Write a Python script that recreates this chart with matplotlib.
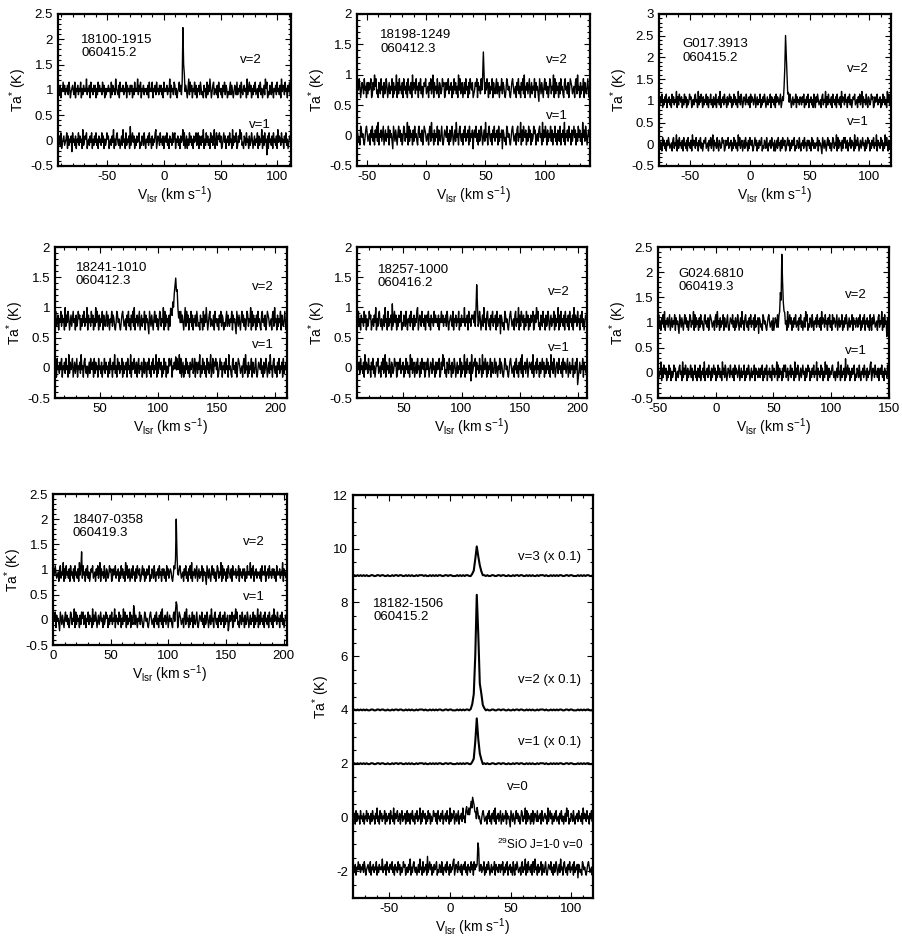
import numpy as np
import matplotlib
matplotlib.use("Agg")
import matplotlib.pyplot as plt
from matplotlib.ticker import MultipleLocator, FuncFormatter

plt.rcParams['font.family'] = ['Liberation Sans', 'DejaVu Sans']
plt.rcParams['mathtext.fontset'] = 'custom'
plt.rcParams['mathtext.rm'] = 'Liberation Sans'
plt.rcParams['mathtext.it'] = 'Liberation Sans:italic'

# ---------------- DATA ----------------
# noise residual strings (one digit per channel): Ta = baseline + (d - 4.5) * noise_step
# line features: additive amplitudes (K) at the given velocities (km/s)

# Panel 1
p1_source, p1_date = "18100-1915", "060415.2"
p1_vrange, p1_yrange = [-93, 112], [-0.5, 2.5]
p1_v2_noise = ("45362 54746 35463 75245 64372 54635 47253 64548 35462 74536 46253 74645 37462 53546 45273 64538 "
               "54362 74546 35472 64536 46253 74548 36472 54635 45362 74547 25463 74536 46352 74546 35482 64537 "
               "63524 57463 25374 64258 37462 54736 25463 75342 64527 36485 24673 54362 74535 26473 65243 57364 "
               "24653 73546 27435 64528 35746 25364 73452 64735 24638 57243 65374 25463 74536 28465 37452 64735")
p1_v2_base, p1_v2_line_vel, p1_v2_line_amp = 1.0, [16.4, 17.0, 17.6, 18.3], [0.3, 1.2, 0.6, 0.15]
p1_v1_noise = ("54637 24563 45726 35461 74536 25473 64528 34657 24536 47253 64735 26453 74625 34756 24536 48253 "
               "67435 24638 45273 54629 35746 25364 57243 65374 25463 74526 35478 24653 74536 25647 35264 53746 "
               "72546 35264 58372 46253 74635 26457 34726 53648 25374 63527 46358 24736 57462 35746 25463 74528 "
               "36457 23648 57342 65374 52634 75246 35472 63548 26374 50627 45362 74536 28465 37452 64735 24657")
p1_v1_base, p1_v1_line_vel, p1_v1_line_amp = 0.0, [], []

# Panel 2
p2_source, p2_date = "18198-1249", "060412.3"
p2_vrange, p2_yrange = [-58, 138], [-0.5, 2.0]
p2_v2_noise = ("36475 24653 74526 36457 23648 57342 65374 52634 75246 35472 63548 26374 53627 45362 74536 28465 "
               "37452 64735 24657 34526 47358 26453 74265 34756 23645 73546 25374 63528 47356 24637 45263 75462 "
               "34657 26453 74528 36475 26354 72643 57364 25473 65324 76453 24675 34526 47352 64738 25463 57246 "
               "35472 64531 75364 25746 35247 63548 27364 52637 45326 74536 24765 34526 73845 26354 72643 57324")
p2_v2_base, p2_v2_line_vel, p2_v2_line_amp = 0.78, [47.4, 48.0, 48.6], [0.15, 0.55, 0.2]
p2_v1_noise = ("65342 76453 24675 34526 47352 64738 25463 57246 35472 64531 75364 25746 35247 63548 27364 52637 "
               "45326 74536 24765 34526 73845 26354 72643 57324 65473 52634 75246 38452 67435 26473 54627 35461 "
               "56473 52634 75246 38452 67435 26473 54627 35461 65342 76453 24675 34526 73548 26375 46253 74625 "
               "34756 24536 74528 36475 26354 73625 47352 64372 54638 25463 74526 35746 25374 63528 46375 24653")
p2_v1_base, p2_v1_line_vel, p2_v1_line_amp = 0.0, [], []

# Panel 3
p3_source, p3_date = "G017.3913", "060415.2"
p3_vrange, p3_yrange = [-76, 118], [-0.5, 3.0]
p3_v2_noise = ("53647 25364 72546 35274 63548 26375 46253 74625 34756 24536 74528 36475 26354 73625 47352 64372 "
               "54638 25463 74526 35746 25374 63528 46375 24653 74536 27465 35724 63547 25364 75246 35472 64536 "
               "27465 35724 63547 25364 75246 35472 64536 53647 25364 72546 35274 26475 34526 73548 26374 53627 "
               "45362 74536 28465 37452 64735 24657 34526 47358 26453 74265 34756 23645 73546 25374 63528 47356")
p3_v2_base = 1.0
p3_v2_line_vel = [28.2, 28.8, 29.4, 30.0, 30.6, 31.2, 31.8, 32.4]
p3_v2_line_amp = [0.1, 0.3, 0.8, 1.35, 1.2, 0.6, 0.25, 0.1]
p3_v1_noise = ("46352 74635 26475 34526 73548 26374 53627 45362 74536 28465 37452 64735 24657 34526 47358 26453 "
               "74265 34756 23645 73546 25374 63528 47356 24637 45263 75462 35746 25364 57243 65374 25463 74526 "
               "24637 45263 75462 35746 25364 57243 65374 25463 74526 46352 74635 35472 64531 75364 25746 35247 "
               "63548 27364 52637 57346 25473 64528 36475 24635 74526 34756 25364 73548 26453 74625 38475 26354")
p3_v1_base, p3_v1_line_vel, p3_v1_line_amp = 0.0, [], []

# Panel 4
p4_source, p4_date = "18241-1010", "060412.3"
p4_vrange, p4_yrange = [12, 210], [-0.5, 2.0]
p4_v2_noise = ("57346 25473 64528 36475 24635 74526 34756 25364 73548 26453 74625 38475 26354 72643 57364 25473 "
               "65324 76453 24675 34526 47352 64738 25463 57246 35472 64531 75364 25746 35247 63548 27364 52637 "
               "63524 57463 25374 64258 37462 54736 25463 75342 64527 36485 24673 54362 74535 26473 65243 57364 "
               "35472 64531 75364 25746 35247 63548 27364 52637 45326 74536 24765 34526 73845 26354 72643 57324")
p4_v2_base = 0.78
p4_v2_line_vel = [110.6, 111.2, 111.8, 112.5, 113.1, 113.7, 114.3, 114.9, 115.5, 116.2, 116.8, 117.4, 118.0, 118.6]
p4_v2_line_amp = [0.05, 0.1, 0.18, 0.28, 0.38, 0.48, 0.55, 0.55, 0.52, 0.42, 0.3, 0.2, 0.12, 0.06]
p4_v1_noise = ("36274 53647 25463 74528 36457 24635 72546 38452 67435 24637 54627 36452 74536 25473 64526 37452 "
               "64835 27463 54726 35462 74538 26457 34625 73546 24736 52647 35264 73548 26375 46253 74625 34756 "
               "72546 35264 58372 46253 74635 26457 34726 53648 25374 63527 46358 24736 57462 35746 25463 74528 "
               "45326 74536 24765 34526 73845 26354 72643 57324 65473 52634 75246 38452 67435 26473 54627 35461")
p4_v1_base, p4_v1_line_vel, p4_v1_line_amp = 0.0, [114.3, 114.9, 115.5, 116.2], [0.08, 0.15, 0.12, 0.06]

# Panel 5
p5_source, p5_date = "18257-1000", "060416.2"
p5_vrange, p5_yrange = [10, 208], [-0.5, 2.0]
p5_v2_noise = ("64735 26453 74625 34756 24536 48253 67435 24638 45273 54629 35746 25364 57243 65374 25463 74526 "
               "35478 24653 74536 25647 35264 53746 45362 54746 35463 75245 64372 54635 47253 64548 35462 74536 "
               "56473 52634 75246 38452 67435 26473 54627 35461 65342 76453 24675 34526 73548 26375 46253 74625 "
               "36457 23648 57342 65374 52634 75246 35472 63548 26374 53627 45362 74536 28465 37452 64735 24657")
p5_v2_base, p5_v2_line_vel, p5_v2_line_amp = 0.78, [112.4, 113.0, 113.6], [0.15, 0.75, 0.2]
p5_v1_noise = ("25463 74536 28465 37452 64735 24657 34526 47358 26453 74265 34756 23645 73546 25374 63528 47356 "
               "24637 45263 75462 36475 24653 74526 36457 23648 57342 65374 52634 75246 35472 63548 26374 53618 "
               "34657 26453 74528 36475 26354 72643 57364 25473 65324 76453 24675 34526 47352 64738 25463 57246 "
               "54638 25463 74526 35746 25374 63528 46375 24653 74536 27465 35724 63547 25364 70246 35472 64536")
p5_v1_base, p5_v1_line_vel, p5_v1_line_amp = 0.0, [], []

# Panel 6
p6_source, p6_date = "G024.6810", "060419.3"
p6_vrange, p6_yrange = [-50, 150], [-0.5, 2.5]
p6_v2_noise = ("47352 64738 25463 57246 35472 64531 75364 25746 35247 63548 27364 52637 45326 74536 24765 34526 "
               "73845 26354 72643 57324 65473 52634 75246 38452 67435 26473 54627 35461 65342 76453 24675 34526 "
               "24653 73546 27435 64528 35746 25364 73452 64735 24638 57243 65374 25463 74536 28465 37452 64735 "
               "27465 35724 63547 25364 75246 35472 64536 53647 25364 72546 35274 26475 34526 73548 26374 50627")
p6_v2_base = 1.0
p6_v2_line_vel = [54.5, 55.1, 55.7, 56.4, 57.0, 57.6, 58.2, 58.9, 59.5]
p6_v2_line_amp = [0.1, 0.25, 0.5, 0.6, 1.2, 0.85, 0.5, 0.2, 0.1]
p6_v1_noise = ("73548 26375 46253 74625 34756 24536 74528 36475 26354 73625 47352 64372 54638 25463 74526 35746 "
               "25374 63528 46375 24653 74536 27465 35724 63547 25364 75246 35472 64536 53647 25364 72546 35274 "
               "63548 27364 52637 57346 25473 64528 36475 24635 74526 34756 25364 73548 26453 74625 38475 26354 "
               "67435 24638 45273 54629 35746 25364 57243 65374 25463 74526 35478 24653 74536 25647 35264 53746")
p6_v1_base, p6_v1_line_vel, p6_v1_line_amp = 0.0, [], []

# Panel 7
p7_source, p7_date = "18407-0358", "060419.3"
p7_vrange, p7_yrange = [0, 203], [-0.5, 2.5]
p7_v2_noise = ("26475 34526 73548 26374 53627 45362 74536 28465 37452 64735 24657 34526 47358 26453 74265 34756 "
               "23645 73546 25374 63528 47356 24637 45263 75462 35746 25364 57243 65374 25463 74526 46352 74635 "
               "65324 76453 24675 34526 47352 64738 25463 57246 35472 64531 75364 25746 35247 63548 27364 52637 "
               "54362 74546 35472 64536 46253 74548 36472 54635 45362 74547 25463 74536 46352 74546 35482 64537")
p7_v2_base = 0.92
p7_v2_line_vel = [25.0, 106.4, 107.0, 107.6, 108.3]
p7_v2_line_amp = [0.4, 0.3, 1.05, 0.5, 0.15]
p7_v1_noise = ("35472 64531 75364 25746 35247 63548 27364 52637 57346 25473 64528 36475 24635 74526 34756 25364 "
               "73548 26453 74625 38475 26354 72643 57364 25473 65324 76453 24675 34526 47352 64738 25463 57246 "
               "45326 74536 24765 34526 73845 26354 72643 57324 65473 52634 75246 38452 67435 26473 54627 35461 "
               "36457 23648 57342 65374 52634 75246 35472 63548 26374 53627 45362 74536 28465 37452 64735 24657")
p7_v1_base, p7_v1_line_vel, p7_v1_line_amp = 0.0, [70.0, 106.4, 107.0, 107.6], [0.25, 0.15, 0.45, 0.2]

# Panel 8 (strong source, vibrational states scaled by 0.1)
p8_source, p8_date = "18182-1506", "060415.2"
p8_vrange, p8_yrange = [-80, 118], [-3.0, 12.0]
p8_smooth_noise = ("45454 54545 44554 45545 54454 45455 45544 54545 44545 55454 45454 54554 45545 54445 45454 55445 "
                   "45454 54545 44554 45545 54454 45455 45544 54545 44545 55454 45454 54554 45545 54445 45454 55445")
p8_v3_base = 9.0
p8_v3_line_vel = [18.0, 19.3, 20.5, 21.8, 23.0, 24.3, 25.5, 26.8]
p8_v3_line_amp = [0.05, 0.2, 0.6, 1.1, 0.7, 0.4, 0.15, 0.03]
p8_v2_base = 4.0
p8_v2_line_vel = [16.8, 18.0, 19.3, 20.5, 21.8, 23.0, 24.3, 25.5, 26.8, 28.0]
p8_v2_line_amp = [0.05, 0.2, 0.6, 2.0, 4.3, 2.8, 1.0, 0.6, 0.2, 0.05]
p8_v1_base = 2.0
p8_v1_line_vel = [18.0, 19.3, 20.5, 21.8, 23.0, 24.3, 25.5]
p8_v1_line_amp = [0.05, 0.2, 0.8, 1.7, 0.9, 0.4, 0.15]
p8_v0_noise = ("54627 36452 74536 25473 64526 37452 64835 27463 54726 35462 74538 26457 34625 73546 24736 52647 "
               "35264 73548 26375 46253 74625 34756 36274 53647 25463 74528 36457 24635 72546 38452 67435 24637 "
               "65342 76453 24675 34526 47352 64738 25463 57246 35472 64531 75364 25746 35247 63548 27364 52637 "
               "24653 73546 27435 64528 35746 25364 73452 64735 24638 57243 65374 25463 74536 28465 37452 64735")
p8_v0_base = 0.0
p8_v0_line_vel = [12.5, 13.1, 13.7, 14.4, 15.0, 15.6, 16.2, 16.8, 17.5, 18.1, 18.7, 19.3, 19.9, 20.6, 21.2, 21.8, 22.4, 23.0]
p8_v0_line_amp = [0.05, 0.1, 0.15, 0.2, 0.25, 0.3, 0.35, 0.4, 0.45, 0.5, 0.5, 0.45, 0.4, 0.35, 0.25, 0.2, 0.12, 0.05]
p8_si29_noise = ("45362 54746 35463 75245 64372 54635 47253 64548 35462 74536 64735 26453 74625 34756 24536 48253 "
                 "67435 24638 45273 54629 35746 25364 57243 65374 25463 74526 35478 24653 74536 25647 35264 53746 "
                 "27465 35724 63547 25364 75246 35472 64536 53647 25364 72546 35274 26475 34526 73548 26374 53627 "
                 "73845 26354 72643 57324 65473 52634 75246 38452 67435 26473 54627 35461 65342 76453 24675 34526")
p8_si29_base = -1.9
p8_si29_line_vel = [22.4, 23.0, 23.6, 24.3]
p8_si29_line_amp = [0.3, 0.9, 0.5, 0.15]

# ---------------- HELPERS ----------------
def spectrum(vrange, noise, base, step, line_vel, line_amp):
    digits = np.array([int(c) for c in noise if c.isdigit()], dtype=float)
    v = np.linspace(vrange[0], vrange[1], len(digits))
    t = base + (digits - 4.5) * step
    for lv, la in zip(line_vel, line_amp):
        i = int(np.argmin(np.abs(v - lv)))
        t[i] += la
    return v, t

fmt = FuncFormatter(lambda x, p: "%g" % x)

def style(ax, xr, yr, ymaj, ymin, xmaj=50, xmin=10):
    ax.set_xlim(xr)
    ax.set_ylim(yr)
    ax.xaxis.set_major_locator(MultipleLocator(xmaj))
    ax.xaxis.set_minor_locator(MultipleLocator(xmin))
    ax.yaxis.set_major_locator(MultipleLocator(ymaj))
    ax.yaxis.set_minor_locator(MultipleLocator(ymin))
    ax.xaxis.set_major_formatter(fmt)
    ax.yaxis.set_major_formatter(fmt)
    ax.tick_params(which='both', direction='in', top=True, right=True, labelsize=9.5, width=0.8)
    ax.tick_params(which='major', length=4)
    ax.tick_params(which='minor', length=2)
    for s in ax.spines.values():
        s.set_linewidth(1.6)
    ax.set_xlabel(r"V$_{\rm lsr}$ (km s$^{-1}$)", fontsize=10, labelpad=1)
    ax.set_ylabel(r"Ta$^{*}$ (K)", fontsize=10, labelpad=1)

W, H = 903.0, 952.0
def rect(l, r, t, b):
    return [l / W, 1 - b / H, (r - l) / W, (b - t) / H]

fig = plt.figure(figsize=(9.03, 9.52), dpi=100)

small = [
    (rect(58, 291, 14, 166), p1_source, p1_date, p1_vrange, p1_yrange,
     [(p1_v2_noise, p1_v2_base, p1_v2_line_vel, p1_v2_line_amp), (p1_v1_noise, p1_v1_base, p1_v1_line_vel, p1_v1_line_amp)],
     (0.10, 0.87), (0.78, 0.70), (0.82, 0.27)),
    (rect(357, 590, 14, 166), p2_source, p2_date, p2_vrange, p2_yrange,
     [(p2_v2_noise, p2_v2_base, p2_v2_line_vel, p2_v2_line_amp), (p2_v1_noise, p2_v1_base, p2_v1_line_vel, p2_v1_line_amp)],
     (0.10, 0.90), (0.81, 0.70), (0.81, 0.33)),
    (rect(659, 891, 14, 166), p3_source, p3_date, p3_vrange, p3_yrange,
     [(p3_v2_noise, p3_v2_base, p3_v2_line_vel, p3_v2_line_amp), (p3_v1_noise, p3_v1_base, p3_v1_line_vel, p3_v1_line_amp)],
     (0.10, 0.84), (0.81, 0.64), (0.81, 0.29)),
    (rect(55, 287, 247, 398), p4_source, p4_date, p4_vrange, p4_yrange,
     [(p4_v2_noise, p4_v2_base, p4_v2_line_vel, p4_v2_line_amp), (p4_v1_noise, p4_v1_base, p4_v1_line_vel, p4_v1_line_amp)],
     (0.09, 0.90), (0.85, 0.735), (0.85, 0.35)),
    (rect(357, 587, 247, 398), p5_source, p5_date, p5_vrange, p5_yrange,
     [(p5_v2_noise, p5_v2_base, p5_v2_line_vel, p5_v2_line_amp), (p5_v1_noise, p5_v1_base, p5_v1_line_vel, p5_v1_line_amp)],
     (0.09, 0.89), (0.83, 0.70), (0.83, 0.33)),
    (rect(658, 889, 247, 398), p6_source, p6_date, p6_vrange, p6_yrange,
     [(p6_v2_noise, p6_v2_base, p6_v2_line_vel, p6_v2_line_amp), (p6_v1_noise, p6_v1_base, p6_v1_line_vel, p6_v1_line_amp)],
     (0.09, 0.86), (0.81, 0.68), (0.81, 0.31)),
    (rect(53, 287, 494, 645), p7_source, p7_date, p7_vrange, p7_yrange,
     [(p7_v2_noise, p7_v2_base, p7_v2_line_vel, p7_v2_line_amp), (p7_v1_noise, p7_v1_base, p7_v1_line_vel, p7_v1_line_amp)],
     (0.085, 0.87), (0.81, 0.68), (0.81, 0.32)),
]

for pos, src, date, xr, yr, specs, npos, v2pos, v1pos in small:
    ax = fig.add_axes(pos)
    for noise, base, lv, la in specs:
        v, t = spectrum(xr, noise, base, 0.062, lv, la)
        ax.plot(v, t, color='black', lw=1.0)
    style(ax, xr, yr, 0.5, 0.1)
    ax.text(npos[0], npos[1], src + "\n" + date, transform=ax.transAxes,
            ha='left', va='top', fontsize=9.5, linespacing=1.15)
    ax.text(v2pos[0], v2pos[1], "v=2", transform=ax.transAxes, ha='left', va='center', fontsize=9.5)
    ax.text(v1pos[0], v1pos[1], "v=1", transform=ax.transAxes, ha='left', va='center', fontsize=9.5)

# Panel 8
ax = fig.add_axes(rect(353, 593, 495, 898))
p8_specs = [
    (p8_smooth_noise, p8_v3_base, 0.03, p8_v3_line_vel, p8_v3_line_amp, 1.5),
    (p8_smooth_noise, p8_v2_base, 0.03, p8_v2_line_vel, p8_v2_line_amp, 1.5),
    (p8_smooth_noise, p8_v1_base, 0.03, p8_v1_line_vel, p8_v1_line_amp, 1.5),
    (p8_v0_noise, p8_v0_base, 0.1, p8_v0_line_vel, p8_v0_line_amp, 1.0),
    (p8_si29_noise, p8_si29_base, 0.1, p8_si29_line_vel, p8_si29_line_amp, 1.0),
]
for noise, base, step, lv, la, lw in p8_specs:
    v, t = spectrum(p8_vrange, noise, base, step, lv, la)
    ax.plot(v, t, color='black', lw=lw)
style(ax, p8_vrange, p8_yrange, 2, 0.5)
ax.text(0.085, 0.745, p8_source + "\n" + p8_date, transform=ax.transAxes,
        ha='left', va='top', fontsize=9.5, linespacing=1.15)
yt = ax.get_yaxis_transform()
ax.text(0.95, 9.7, "v=3 (x 0.1)", ha='right', va='center', fontsize=9.5, transform=yt)
ax.text(0.95, 5.1, "v=2 (x 0.1)", ha='right', va='center', fontsize=9.5, transform=yt)
ax.text(0.95, 2.8, "v=1 (x 0.1)", ha='right', va='center', fontsize=9.5, transform=yt)
ax.text(0.64, 1.13, "v=0", ha='left', va='center', fontsize=9.5, transform=yt)
ax.text(0.96, -1.0, r"$^{29}$SiO J=1-0 v=0", ha='right', va='center', fontsize=8.5, transform=yt)

fig.savefig("out.png", dpi=100)
